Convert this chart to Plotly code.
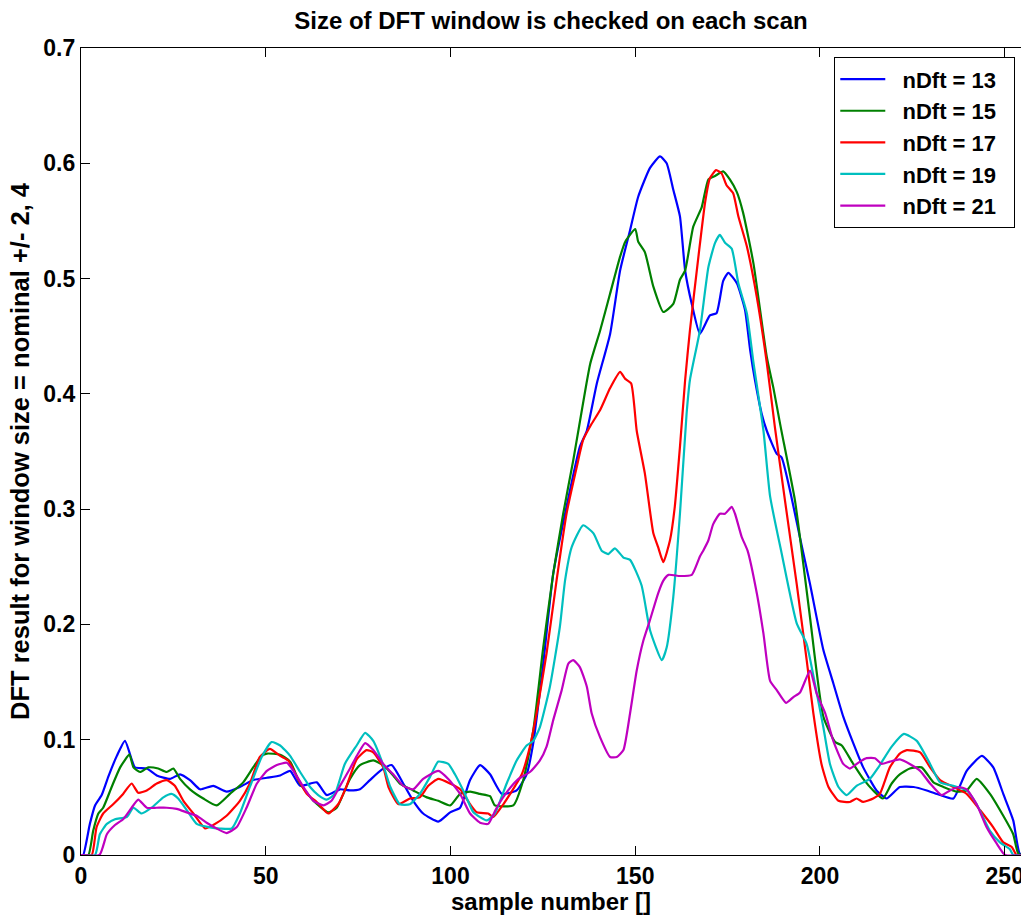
import plotly.graph_objects as go

# ---------------- data ----------------
x_13 = [0, 0.6, 2.4, 3.8, 5.6, 7.4, 9.7, 11.9, 13.7, 14.6, 17.8, 20.5, 24.1, 26.8, 29.5, 32.2, 35.8, 39.4, 43, 46.6,
        50.3, 53.9, 56.6, 59.3, 63.8, 66.5, 70.1, 72.8, 75.5, 78.2, 81.4, 84.1, 87.2, 89.9, 92.6, 96.7, 99.9, 102.6,
        105.3, 108, 110.7, 113.9, 117.9, 120.6, 122.4, 125.1, 127.8, 131.4, 135, 136.9, 139.6, 143.2, 145.9, 148.6,
        150.8, 154, 156.7, 158.5, 160.3, 162.1, 163.5, 165.3, 167.5, 170.2, 172, 173.8, 175.2, 177.5, 179.7, 181.1,
        182.4, 184.2, 185.6, 188.3, 189.6, 191.9, 194.6, 197.3, 200.9, 203.6, 206.3, 209, 211.7, 215.3, 218, 221.6,
        225.3, 228.9, 232.5, 236.1, 239.7, 243.8, 246.9, 249.6, 252.3, 254.1, 256]
y_13 = [0, 0, 0.027, 0.043, 0.052, 0.068, 0.086, 0.099, 0.083, 0.076, 0.075, 0.069, 0.066, 0.070, 0.065, 0.057, 0.060,
        0.055, 0.059, 0.065, 0.067, 0.069, 0.073, 0.060, 0.063, 0.052, 0.057, 0.056, 0.057, 0.065, 0.074, 0.078, 0.062,
        0.047, 0.036, 0.029, 0.037, 0.041, 0.065, 0.078, 0.070, 0.053, 0.056, 0.070, 0.097, 0.166, 0.244, 0.302, 0.354,
        0.368, 0.409, 0.452, 0.507, 0.542, 0.571, 0.596, 0.606, 0.600, 0.577, 0.554, 0.507, 0.478, 0.452, 0.468, 0.470,
        0.498, 0.505, 0.496, 0.473, 0.438, 0.412, 0.383, 0.368, 0.348, 0.345, 0.316, 0.275, 0.235, 0.178, 0.149, 0.120,
        0.097, 0.076, 0.056, 0.049, 0.059, 0.059, 0.056, 0.052, 0.049, 0.073, 0.086, 0.076, 0.053, 0.030, 0.001, 0]

x_15 = [0, 2, 3.3, 4.7, 6, 8.3, 10.6, 13.1, 14.2, 16, 18.2, 20.9, 23.2, 25, 26.8, 29.5, 33.1, 36.7, 40.3, 43.9, 46.6,
        48.9, 50.3, 53.9, 56.6, 59.3, 62.9, 66.9, 69.2, 72.8, 75.5, 79.1, 81.8, 84.5, 86.3, 89.9, 93.6, 96.7, 99.9,
        102.6, 105.3, 108, 110.7, 112, 117, 119.7, 122.4, 125.1, 127.8, 130.5, 133.2, 134.6, 137.8, 140.5, 143.2,
        145.9, 147.3, 150, 150.8, 152.6, 154.9, 157.6, 160.3, 162.1, 163.5, 165.7, 168, 169.8, 171.6, 173.8, 175.6,
        177.5, 179.2, 182, 185.6, 187.4, 189.2, 193.2, 194.6, 197.3, 200.9, 204.1, 205.9, 209, 211.7, 214.4, 217,
        219.4, 221.6, 224.3, 227.5, 230.7, 233.4, 237, 239.7, 242.4, 246, 249.6, 252.3, 253.7, 256]
y_15 = [0, 0, 0.021, 0.036, 0.041, 0.059, 0.076, 0.087, 0.076, 0.072, 0.076, 0.075, 0.072, 0.075, 0.066, 0.057, 0.049,
        0.043, 0.053, 0.063, 0.076, 0.086, 0.088, 0.087, 0.081, 0.062, 0.047, 0.037, 0.041, 0.066, 0.078, 0.082, 0.078,
        0.069, 0.062, 0.056, 0.050, 0.047, 0.043, 0.053, 0.055, 0.053, 0.051, 0.043, 0.043, 0.065, 0.108, 0.180, 0.244,
        0.296, 0.342, 0.368, 0.426, 0.455, 0.487, 0.519, 0.532, 0.543, 0.532, 0.523, 0.493, 0.471, 0.478, 0.499, 0.507,
        0.545, 0.562, 0.586, 0.589, 0.593, 0.586, 0.575, 0.557, 0.513, 0.432, 0.405, 0.374, 0.308, 0.275, 0.206, 0.120,
        0.098, 0.095, 0.079, 0.066, 0.056, 0.049, 0.062, 0.070, 0.075, 0.076, 0.063, 0.059, 0.055, 0.056, 0.066, 0.053,
        0.034, 0.018, 0.001, 0]

x_17 = [0, 2.9, 4.2, 6, 8.7, 11.4, 13.7, 15.5, 17.8, 20.5, 23.2, 25.4, 27.7, 30.4, 33.6, 35.8, 39.4, 43, 45.7, 48.4,
        51.1, 53.9, 56.1, 58.4, 61.1, 63.8, 66.9, 69.6, 71.9, 74.6, 77.3, 79.1, 81.8, 83.2, 85.9, 89, 91.7, 94, 96.7,
        99.9, 102.6, 105.3, 107.1, 110.2, 111.6, 114.3, 117.5, 119.3, 121.5, 123.3, 126, 128.7, 131.4, 134.2, 135.9,
        138.2, 140.5, 143.2, 145.9, 147.3, 148.9, 150.4, 152.6, 154.9, 156.2, 157.6, 159.4, 160.7, 162.1, 163.5, 164.8,
        167.1, 168.9, 170.2, 171.9, 173.4, 174.7, 176.5, 177.9, 180.2, 182.9, 185.6, 187.8, 190.5, 193.7, 196.4, 198.2,
        200.4, 202.3, 205, 208.1, 209.9, 211.7, 214.4, 216.2, 218.9, 221.6, 223.5, 227.1, 229.8, 232.5, 236.1, 239.7,
        243.3, 246.9, 249.6, 251.9, 253.2, 256]
y_17 = [0, 0, 0.024, 0.036, 0.044, 0.053, 0.062, 0.054, 0.056, 0.062, 0.065, 0.060, 0.047, 0.036, 0.023, 0.026, 0.034,
        0.047, 0.062, 0.085, 0.092, 0.086, 0.082, 0.068, 0.053, 0.046, 0.036, 0.044, 0.060, 0.083, 0.091, 0.089, 0.076,
        0.059, 0.044, 0.049, 0.050, 0.060, 0.066, 0.062, 0.057, 0.044, 0.037, 0.036, 0.033, 0.044, 0.060, 0.070, 0.094,
        0.123, 0.175, 0.238, 0.296, 0.337, 0.360, 0.374, 0.386, 0.405, 0.419, 0.413, 0.409, 0.368, 0.331, 0.279, 0.267,
        0.254, 0.273, 0.302, 0.354, 0.412, 0.455, 0.519, 0.566, 0.587, 0.594, 0.591, 0.581, 0.574, 0.554, 0.528, 0.484,
        0.427, 0.371, 0.308, 0.235, 0.169, 0.123, 0.079, 0.059, 0.047, 0.046, 0.049, 0.046, 0.049, 0.053, 0.076, 0.088,
        0.091, 0.089, 0.076, 0.065, 0.059, 0.053, 0.039, 0.024, 0.011, 0.007, 0, 0]

x_19 = [0, 3.8, 5.1, 7, 9.2, 12.4, 14.2, 16.4, 19.1, 22.3, 24.5, 26.3, 28.6, 31.3, 34.9, 37.6, 40.8, 43, 45.7, 48.9,
        51.6, 53.9, 56.6, 59.3, 62, 64.2, 66.5, 68.7, 71.4, 74.6, 76.9, 79.1, 81.8, 83.6, 86.3, 89, 91.7, 94.5, 96.7,
        99.4, 101.2, 103.9, 106.2, 109.8, 112, 115.2, 117.9, 120.6, 122.4, 124.2, 126.9, 129.6, 131, 132.8, 135.9,
        138.7, 140.9, 142.7, 144.5, 146.8, 148.6, 151.7, 154, 157.2, 158.5, 160.3, 162.1, 163.9, 164.8, 167.5, 169.8,
        171.6, 172.9, 174.3, 176.1, 177.9, 180.2, 182, 184.7, 186.5, 189.6, 193.7, 196.4, 198.6, 200.9, 202.7, 205,
        207.2, 209.9, 213.5, 215.8, 219.4, 222.7, 226.2, 229.8, 232.5, 236.1, 239.7, 242.4, 246, 248.7, 251.4, 252.3,
        256]
y_19 = [0, 0, 0.018, 0.027, 0.031, 0.033, 0.041, 0.036, 0.041, 0.050, 0.053, 0.049, 0.039, 0.027, 0.024, 0.023, 0.023,
        0.036, 0.059, 0.085, 0.098, 0.095, 0.086, 0.072, 0.059, 0.052, 0.048, 0.053, 0.079, 0.095, 0.106, 0.099, 0.078,
        0.060, 0.044, 0.044, 0.053, 0.068, 0.081, 0.079, 0.070, 0.053, 0.037, 0.030, 0.036, 0.062, 0.082, 0.095, 0.099,
        0.111, 0.146, 0.198, 0.238, 0.267, 0.286, 0.279, 0.264, 0.261, 0.266, 0.258, 0.256, 0.234, 0.195, 0.169, 0.180,
        0.224, 0.296, 0.383, 0.412, 0.455, 0.510, 0.531, 0.538, 0.531, 0.526, 0.496, 0.470, 0.427, 0.368, 0.311, 0.262,
        0.201, 0.183, 0.149, 0.111, 0.079, 0.059, 0.052, 0.060, 0.066, 0.076, 0.094, 0.105, 0.099, 0.079, 0.063, 0.060,
        0.056, 0.044, 0.021, 0.011, 0.005, 0, 0]

x_21 = [0, 5, 7, 9.2, 11.4, 13.7, 15.5, 17.8, 20.5, 23.2, 25.9, 28.6, 31.3, 34, 36.7, 39.4, 42.1, 44.8, 47.6, 50.3,
        53, 55.7, 57.5, 60.2, 62.9, 65.6, 67.8, 70.1, 72.8, 75, 76.9, 79.1, 81.8, 84.5, 87.2, 89.9, 92.6, 96.7, 99.4,
        102.6, 105.3, 108, 110.2, 112.5, 115.6, 118.4, 121.5, 124.2, 126, 127.8, 130.1, 131.9, 133.2, 135, 136.9, 138.2,
        140.5, 143.2, 145, 146.8, 148.6, 150.4, 152.2, 154, 156.2, 157.6, 159, 162.1, 165.3, 167.5, 168.4, 169.8, 171.1,
        172.9, 174.3, 176.1, 177, 178.8, 180.4, 182.9, 184.7, 186.5, 188.3, 190.8, 192.8, 194.6, 197.3, 199.1, 201.4,
        203.6, 206.3, 208.1, 210.8, 212.6, 214.9, 216.7, 218.9, 221.6, 224.3, 227.1, 229.8, 232.9, 235.2, 237.5, 239.7,
        242.4, 245.1, 247.8, 250.1, 256]
y_21 = [0, 0, 0.018, 0.026, 0.031, 0.041, 0.048, 0.041, 0.041, 0.041, 0.040, 0.037, 0.034, 0.028, 0.023, 0.019, 0.024,
        0.041, 0.062, 0.073, 0.078, 0.080, 0.073, 0.059, 0.047, 0.043, 0.047, 0.060, 0.075, 0.088, 0.097, 0.091, 0.079,
        0.070, 0.060, 0.057, 0.066, 0.073, 0.066, 0.053, 0.036, 0.028, 0.027, 0.041, 0.056, 0.066, 0.072, 0.082, 0.094,
        0.117, 0.143, 0.166, 0.169, 0.163, 0.146, 0.123, 0.102, 0.085, 0.085, 0.091, 0.123, 0.160, 0.186, 0.204, 0.227,
        0.238, 0.243, 0.242, 0.243, 0.259, 0.264, 0.273, 0.287, 0.296, 0.296, 0.302, 0.296, 0.276, 0.264, 0.227, 0.192,
        0.151, 0.143, 0.132, 0.137, 0.141, 0.160, 0.140, 0.123, 0.099, 0.079, 0.075, 0.081, 0.084, 0.084, 0.079, 0.081,
        0.083, 0.079, 0.073, 0.062, 0.052, 0.056, 0.059, 0.057, 0.044, 0.024, 0.010, 0, 0]

series_names = ["nDft = 13", "nDft = 15", "nDft = 17", "nDft = 19", "nDft = 21"]
series_x = [x_13, x_15, x_17, x_19, x_21]
series_y = [y_13, y_15, y_17, y_19, y_21]
series_colors = ["#0000FF", "#008000", "#FF0000", "#00BFBF", "#BF00BF"]

x_ticks = [0, 50, 100, 150, 200, 250]
y_ticks = [0, 0.1, 0.2, 0.3, 0.4, 0.5, 0.6, 0.7]
y_tick_text = ["0", "0.1", "0.2", "0.3", "0.4", "0.5", "0.6", "0.7"]

FONT = "Liberation Sans, Arial, Helvetica, sans-serif"
NBSP = "\u00a0"

fig = go.Figure()
for name, xs, ys, col in zip(series_names, series_x, series_y, series_colors):
    fig.add_trace(go.Scatter(x=xs, y=ys, mode="lines", name=NBSP + NBSP + name + NBSP + NBSP,
                             line=dict(color=col, width=2.2, shape="spline", smoothing=0.5),
                             hoverinfo="skip"))

axis_common = dict(showgrid=False, zeroline=False, ticks="inside", ticklen=9, tickwidth=1,
                   tickcolor="black", showline=True, linecolor="black", linewidth=1.3)

fig.update_layout(
    width=1021, height=915,
    margin=dict(l=81, r=0, t=48, b=60, autoexpand=False),
    paper_bgcolor="white", plot_bgcolor="white",
    font=dict(family=FONT, color="black"),
    title=dict(text="Size of DFT window is checked on each scan",
               font=dict(family=FONT, size=24, weight="bold", color="black"),
               x=0.5, xref="paper", xanchor="center",
               y=1 - 21 / 915, yref="container", yanchor="middle"),
    xaxis=dict(range=[0, 254.4], tickvals=x_ticks, mirror="allticks",
               ticklabeloverflow="allow",
               tickfont=dict(family=FONT, size=23, weight="bold"),
               title=dict(text="sample number []", standoff=3,
                          font=dict(family=FONT, size=24, weight="bold")),
               **axis_common),
    yaxis=dict(range=[0, 0.7], tickvals=y_ticks, ticktext=y_tick_text, mirror=False,
               tickfont=dict(family=FONT, size=23, weight="bold"),
               title=dict(text="DFT result for window size = nominal +/- 2, 4", standoff=6,
                          font=dict(family=FONT, size=25.5, weight="bold")),
               **axis_common),
    yaxis2=dict(range=[0, 0.7], tickvals=y_ticks, overlaying="y", side="right", anchor="x",
                showticklabels=False, showgrid=False, zeroline=False, showline=False,
                ticks="inside", ticklen=9, tickwidth=1, tickcolor="black"),
    legend=dict(x=0.9936, y=0.9888, xanchor="right", yanchor="top",
                bgcolor="white", bordercolor="black", borderwidth=1.3,
                font=dict(family=FONT, size=22, weight="bold"),
                itemwidth=45, tracegroupgap=0),
    showlegend=True,
)

fig.write_html("out.html")
